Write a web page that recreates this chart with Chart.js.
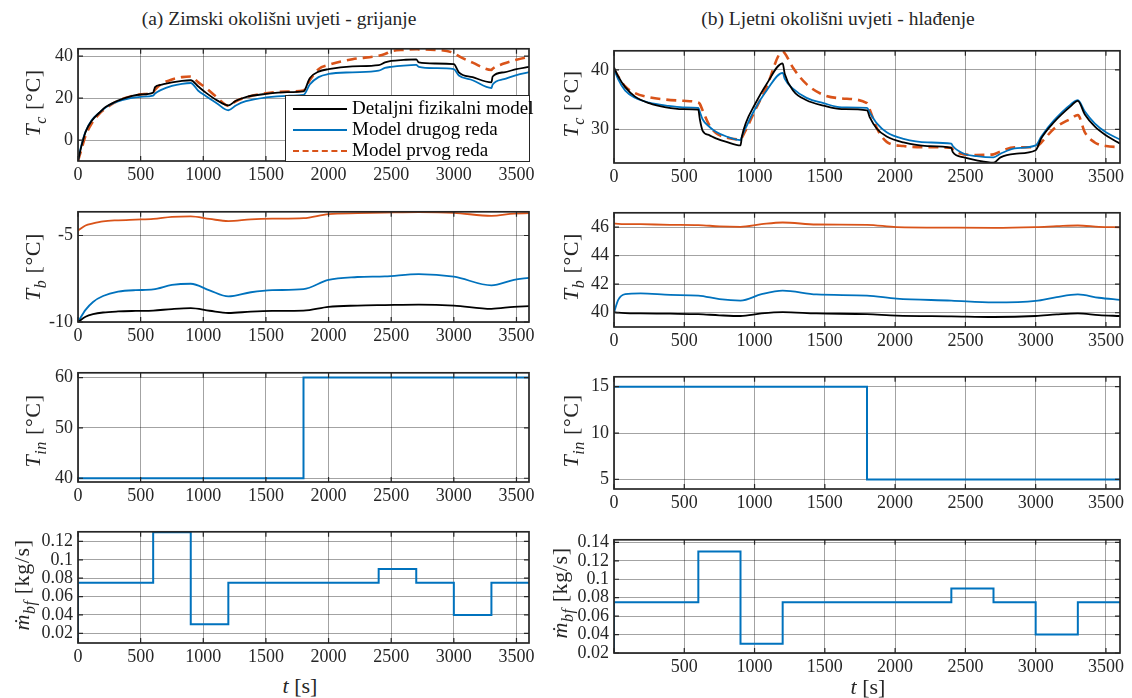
<!DOCTYPE html>
<html>
<head>
<meta charset="utf-8">
<script src="https://cdn.jsdelivr.net/npm/chart.js@4.4.1/dist/chart.umd.min.js"></script>
<style>
  body { margin: 0; background: #fff; width: 1132px; height: 698px; position: relative; overflow: hidden;
         font-family: "Liberation Serif", serif; color: #262626; }
  .box { position: absolute; }
  .ttl { position: absolute; font-size: 19.5px; white-space: nowrap; transform: translate(-50%, -50%); }
  .yl { position: absolute; font-size: 22px; letter-spacing: 0.6px; white-space: nowrap; transform: translate(-50%, -50%) rotate(-90deg); }
  .yl sub, .xl sub { font-size: 16px; font-style: italic; }
  #legend { position: absolute; left: 285px; top: 95px; width: 243px; height: 65px; background: #fff;
            border: 1px solid #262626; font-size: 19px; z-index: 5; font-family: "Liberation Serif", serif; }
  #legend div { position: absolute; left: 0; height: 20px; line-height: 20px; }
  #legend span.s { position: absolute; left: 7px; top: 9px; width: 54px; }
  #legend span.t { position: absolute; left: 66px; top: -1px; white-space: nowrap; color: #000; }
</style>
</head>
<body>

<script>
// vremenska os
const xTicks = [0, 500, 1000, 1500, 2000, 2500, 3000, 3500];

// (a) zima - temperatura kolektora
const tTcWinter = [0, 25, 60, 110, 170, 220, 290, 350, 420, 500, 600, 615, 660, 750, 830, 900, 960, 1020, 1110, 1200,
  1260, 1340, 1500, 1670, 1800, 1850, 1920, 2000, 2190, 2400, 2450, 2500, 2600, 2700, 2720, 2850, 3000, 3040, 3150, 3300,
  3310, 3400, 3500, 3600];
const tcDetWinter = [-10, -3.5, 3.8, 9.2, 13, 15.7, 18, 19.5, 20.8, 21.7, 22.6, 25.2, 26.3, 27.5, 28.2, 28.5, 25.5, 22.6, 18.9, 16.5,
  18.7, 20.5, 22, 22.8, 23.2, 29.5, 32.6, 33.8, 35.1, 35.7, 37, 37.7, 38.2, 38.5, 37, 36.5, 36.2, 32.3, 30, 27.5,
  30.3, 32.3, 33.8, 34.9];
const tcSecWinter = [-10, -3, 4, 9.5, 13, 15.5, 17.8, 19, 20, 20.6, 21.2, 22.2, 23.8, 25.8, 26.8, 27.2, 23.5, 21, 17.4, 14.2,
  16.5, 18.5, 20.3, 21.1, 21.5, 26.5, 30, 31.5, 32.3, 33.1, 34.4, 34.9, 35.5, 35.8, 34.9, 34.3, 33.8, 30.8, 28.5, 24.8,
  26.5, 29, 31, 32.4];
const tcFirstWinter = [-10, -5, 2, 8, 12.5, 15, 17.8, 19.5, 20.8, 21.8, 22.8, 24, 26.5, 28.9, 30, 30.3, 27.5, 24.9, 20.3, 16.3,
  18.5, 20.3, 22.3, 23.1, 23.6, 28.5, 33.8, 35.8, 38.5, 40.2, 41, 42.3, 43, 43.3, 43.2, 43, 41.5, 40, 36.9, 33.4,
  34, 36.5, 38.3, 39.7];

// (b) ljeto - temperatura kolektora
const tTcSummer = [0, 30, 80, 150, 250, 370, 490, 600, 610, 630, 680, 725, 800, 900, 910, 940, 1000, 1085, 1200, 1215,
  1275, 1370, 1490, 1620, 1800, 1820, 1870, 1940, 2060, 2230, 2400, 2410, 2490, 2580, 2700, 2750, 2850, 3000, 3040, 3130,
  3250, 3300, 3350, 3420, 3500, 3600];
const tcDetSummer = [40.4, 38.9, 37.1, 35.5, 34.4, 33.7, 33.4, 33.3, 31.8, 29.8, 29.0, 28.5, 27.9, 27.3, 28.8, 31.2, 34.1, 37.6, 41.1, 39.3,
  36.5, 34.9, 34.0, 33.4, 33.2, 32.0, 30.1, 28.8, 27.8, 27.2, 26.9, 26.2, 25.3, 24.8, 24.4, 25.3, 25.9, 26.5, 28.5, 31.2,
  33.9, 34.8, 32.5, 30.5, 29.0, 27.6];
const tcSecSummer = [40.2, 38.4, 36.5, 35.3, 34.5, 34.0, 33.7, 33.6, 33.0, 31.7, 30.4, 29.6, 28.8, 28.2, 28.8, 30.4, 33.3, 36.5, 39.5, 38.5,
  36.8, 35.3, 34.4, 33.7, 33.6, 32.8, 31.0, 29.5, 28.4, 27.8, 27.6, 27.2, 25.9, 25.5, 25.3, 25.9, 26.8, 27.3, 28.8, 31.5,
  34.2, 34.9, 33.0, 31.0, 29.5, 28.3];
const tcFirstSummer = [40.0, 38.9, 37.2, 36.1, 35.4, 35.0, 34.8, 34.5, 34.3, 33.2, 30.6, 29.4, 28.6, 28.3, 28.6, 30.0, 33.0, 37.1, 43.1, 42.8,
  40.3, 37.6, 35.8, 35.2, 34.4, 33.3, 30.2, 27.9, 27.2, 27.0, 26.9, 26.6, 25.8, 25.7, 25.8, 26.3, 27.0, 27.0, 27.8, 30.1,
  31.8, 32.4, 29.5, 27.8, 27.2, 27.0];

// temperatura busotine
const tTbWinter = [0, 60, 120, 200, 320, 460, 600, 750, 900, 1050, 1200, 1380, 1550, 1800, 2000, 2230, 2450, 2720, 3000, 3300, 3480, 3600];
const tbDetWinter = [-10, -9.7, -9.55, -9.45, -9.39, -9.36, -9.34, -9.25, -9.2, -9.35, -9.48, -9.4, -9.36, -9.34, -9.12, -9.05, -9.02, -8.99, -9.05, -9.24, -9.12, -9.08];
const tbSecWinter = [-10, -9.3, -8.84, -8.5, -8.25, -8.16, -8.12, -7.86, -7.79, -8.17, -8.52, -8.28, -8.16, -8.1, -7.56, -7.4, -7.36, -7.23, -7.38, -7.88, -7.56, -7.45];
const tbFirstWinter = [-4.72, -4.42, -4.3, -4.18, -4.12, -4.08, -4.04, -3.92, -3.89, -4.04, -4.17, -4.07, -4.03, -4.0, -3.76, -3.71, -3.68, -3.65, -3.69, -3.86, -3.73, -3.71];

const tTbSummer = [0, 30, 80, 190, 400, 600, 750, 900, 1050, 1200, 1440, 1800, 2010, 2400, 2700, 3000, 3150, 3300, 3450, 3600];
const tbDetSummer = [40.04, 40.0, 39.97, 39.95, 39.93, 39.9, 39.82, 39.77, 39.95, 40.04, 39.95, 39.9, 39.8, 39.75, 39.7, 39.77, 39.88, 39.95, 39.83, 39.77];
const tbSecSummer = [40.0, 40.9, 41.3, 41.35, 41.25, 41.2, 40.95, 40.85, 41.3, 41.55, 41.28, 41.2, 40.99, 40.85, 40.72, 40.83, 41.1, 41.28, 41.05, 40.9];
const tbFirstSummer = [46.25, 46.23, 46.21, 46.2, 46.16, 46.14, 46.05, 46.02, 46.2, 46.32, 46.18, 46.16, 46.0, 45.96, 45.95, 46.0, 46.06, 46.11, 46.02, 45.98];

// ulazna temperatura (stepenasto)
const tStepTin = [0, 1800, 3600];
const tinWinter = [40, 60, 60];
const tinSummer = [15, 5, 5];

// maseni protok (stepenasto)
const tStepFlow = [0, 0, 600, 900, 1200, 2400, 2700, 3000, 3300, 3600];
const flowWinter = [0, 0.075, 0.13, 0.03, 0.075, 0.09, 0.075, 0.04, 0.075, 0.075];
const flowSummer = [0, 0.075, 0.13, 0.03, 0.075, 0.09, 0.075, 0.04, 0.075, 0.075];

const BLACK = "#000000", BLUE = "#0072BD", ORANGE = "#D95319";
const FONT = "'Liberation Serif', 'Times New Roman', Times, serif";
const GRID = "rgba(0,0,0,0.36)";

Chart.defaults.font.family = FONT;
Chart.defaults.font.size = 18;
Chart.defaults.color = "#262626";

function xy(ts, vs) {
  return ts.map((t, i) => ({ x: t, y: vs[i] }));
}

function curve(ts, vs, color, dashed) {
  return {
    data: xy(ts, vs),
    borderColor: color,
    borderWidth: dashed ? 2.6 : 1.8,
    borderDash: dashed ? [10, 6] : [],
    pointRadius: 0,
    cubicInterpolationMode: "monotone",
    fill: false
  };
}

function steps(ts, vs) {
  return {
    data: xy(ts, vs),
    borderColor: BLUE,
    borderWidth: 2,
    pointRadius: 0,
    stepped: true,
    fill: false
  };
}

// okvir i unutarnje crtice kao u matlabu
const framePlugin = {
  id: "frame",
  afterDraw(chart) {
    const { ctx, chartArea: a, scales: { x, y } } = chart;
    ctx.save();
    ctx.strokeStyle = "#262626";
    ctx.lineWidth = 1.2;
    ctx.beginPath();
    x.ticks.forEach(t => {
      const px = x.getPixelForValue(t.value);
      ctx.moveTo(px, a.top); ctx.lineTo(px, a.top + 5);
      ctx.moveTo(px, a.bottom); ctx.lineTo(px, a.bottom - 5);
    });
    y.ticks.forEach(t => {
      const py = y.getPixelForValue(t.value);
      ctx.moveTo(a.left, py); ctx.lineTo(a.left + 5, py);
      ctx.moveTo(a.right, py); ctx.lineTo(a.right - 5, py);
    });
    ctx.stroke();
    ctx.lineWidth = 1.7;
    ctx.strokeRect(a.left, a.top, a.right - a.left, a.bottom - a.top);
    ctx.restore();
  }
};

const COLS = [{ left: 0, width: 548 }, { left: 548, width: 584 }];
const PAD_TOP = 10, XAXIS_H = 28;

function panel(col, frame, yMin, yMax, yTicks, datasets, hideZero) {
  const c = COLS[col];
  const h = frame.b - frame.t + PAD_TOP + XAXIS_H;
  const div = document.createElement("div");
  div.className = "box";
  div.style.left = c.left + "px";
  div.style.top = (frame.t - PAD_TOP) + "px";
  const cv = document.createElement("canvas");
  cv.width = c.width; cv.height = h;
  cv.style.width = c.width + "px"; cv.style.height = h + "px";
  div.appendChild(cv);
  document.body.appendChild(div);

  new Chart(cv, {
    type: "line",
    data: { datasets: datasets },
    options: {
      responsive: false,
      animation: false,
      events: [],
      layout: { padding: { top: PAD_TOP, right: c.left + c.width - frame.r, left: 0, bottom: 0 } },
      plugins: { legend: { display: false }, tooltip: { enabled: false } },
      scales: {
        x: {
          type: "linear", min: 0, max: 3600,
          afterBuildTicks: s => { s.ticks = xTicks.map(v => ({ value: v })); },
          afterFit: s => { s.height = XAXIS_H; },
          grid: { color: GRID, lineWidth: 1, drawTicks: false },
          border: { display: false },
          ticks: {
            autoSkip: false, maxRotation: 0, padding: 3, color: "#262626",
            font: { family: FONT, size: 18 },
            callback: v => (hideZero && v === 0) ? "" : String(v)
          }
        },
        y: {
          type: "linear", min: yMin, max: yMax,
          afterBuildTicks: s => { s.ticks = yTicks.map(v => ({ value: v })); },
          afterFit: s => { s.width = frame.l - c.left; },
          grid: { color: GRID, lineWidth: 1, drawTicks: false },
          border: { display: false },
          ticks: {
            autoSkip: false, padding: 5, color: "#262626",
            font: { family: FONT, size: 18 },
            callback: v => String(v)
          }
        }
      }
    },
    plugins: [framePlugin]
  });
}

// lijevi stupac: zima
panel(0, { l: 78, t: 43, r: 529, b: 161 }, -10, 43.5, [0, 20, 40], [
  curve(tTcWinter, tcDetWinter, BLACK, false),
  curve(tTcWinter, tcSecWinter, BLUE, false),
  curve(tTcWinter, tcFirstWinter, ORANGE, true)
]);
panel(0, { l: 78, t: 206, r: 529, b: 322 }, -10, -3.63, [-10, -5], [
  curve(tTbWinter, tbDetWinter, BLACK, false),
  curve(tTbWinter, tbSecWinter, BLUE, false),
  curve(tTbWinter, tbFirstWinter, ORANGE, false)
]);
panel(0, { l: 78, t: 367, r: 529, b: 482 }, 39.25, 60.95, [40, 50, 60], [steps(tStepTin, tinWinter)]);
panel(0, { l: 78, t: 526, r: 529, b: 643 }, 0.0095, 0.1305, [0.02, 0.04, 0.06, 0.08, 0.1, 0.12], [steps(tStepFlow, flowWinter)]);

// desni stupac: ljeto
panel(1, { l: 614, t: 45, r: 1120, b: 163 }, 24.35, 43.2, [30, 40], [
  curve(tTcSummer, tcDetSummer, BLACK, false),
  curve(tTcSummer, tcSecSummer, BLUE, false),
  curve(tTcSummer, tcFirstSummer, ORANGE, true)
]);
panel(1, { l: 614, t: 207, r: 1120, b: 327 }, 39, 47, [40, 42, 44, 46], [
  curve(tTbSummer, tbDetSummer, BLACK, false),
  curve(tTbSummer, tbSecSummer, BLUE, false),
  curve(tTbSummer, tbFirstSummer, ORANGE, false)
]);
panel(1, { l: 614, t: 371, r: 1120, b: 489 }, 3.97, 16.06, [5, 10, 15], [steps(tStepTin, tinSummer)]);
panel(1, { l: 614, t: 534, r: 1120, b: 653 }, 0.02, 0.1428, [0.02, 0.04, 0.06, 0.08, 0.1, 0.12, 0.14], [steps(tStepFlow, flowSummer)], true);
</script>

<div class="ttl" style="left:279px;top:19px">(a) Zimski okolišni uvjeti - grijanje</div>
<div class="ttl" style="left:838px;top:19px">(b) Ljetni okolišni uvjeti - hlađenje</div>

<div class="yl" style="left:35px;top:103px"><i>T</i><sub>c</sub> [°C]</div>
<div class="yl" style="left:35px;top:267px"><i>T</i><sub>b</sub> [°C]</div>
<div class="yl" style="left:35px;top:431px"><i>T</i><sub>in</sub> [°C]</div>
<div class="yl" style="left:24px;top:585px"><i>ṁ</i><sub>bf</sub> [kg/s]</div>

<div class="yl" style="left:573px;top:104px"><i>T</i><sub>c</sub> [°C]</div>
<div class="yl" style="left:573px;top:267px"><i>T</i><sub>b</sub> [°C]</div>
<div class="yl" style="left:573px;top:431px"><i>T</i><sub>in</sub> [°C]</div>
<div class="yl" style="left:562px;top:593px"><i>ṁ</i><sub>bf</sub> [kg/s]</div>

<div class="ttl xl" style="left:300px;top:686px;font-size:22px"><i>t</i> [s]</div>
<div class="ttl xl" style="left:868px;top:687px;font-size:22px"><i>t</i> [s]</div>

<div id="legend">
  <div style="top:3px;width:100%"><span class="s" style="border-top:2px solid #000"></span><span class="t">Detaljni fizikalni model</span></div>
  <div style="top:24px;width:100%"><span class="s" style="border-top:2px solid #0072BD"></span><span class="t">Model drugog reda</span></div>
  <div style="top:45px;width:100%"><span class="s" style="border-top:2.5px dashed #D95319"></span><span class="t">Model prvog reda</span></div>
</div>

</body>
</html>
